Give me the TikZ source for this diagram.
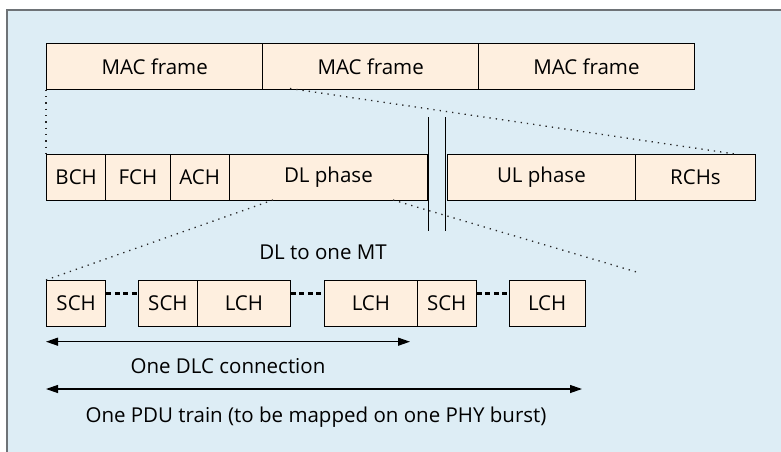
\documentclass[tikz,border=0pt]{standalone}
\usepackage{fontspec}
\setmainfont{Open Sans}
\usetikzlibrary{arrows.meta,calc}
\definecolor{bgblue}{HTML}{DDEDF5}
\definecolor{boxfill}{HTML}{FEEFDF}
\definecolor{framegray}{HTML}{6E7377}
\begin{document}
\begin{tikzpicture}[x=1pt,y=-1pt,
  cell/.style={draw=black,line width=1.3pt,fill=boxfill,anchor=north west,inner sep=0pt,
    minimum height=45.5pt,font=\fontsize{20.5}{24}\selectfont},
  dotl/.style={dash pattern=on 1.3pt off 5pt,line width=1.3pt,black!85},
  dashl/.style={dash pattern=on 5pt off 3.5pt,line width=2.4pt},
  dim/.style={{Triangle[length=12pt,width=8pt]}-{Triangle[length=12pt,width=8pt]},line width=1.2pt},
  lbl/.style={font=\fontsize{20.5}{24}\selectfont,inner sep=0pt}]
\useasboundingbox (0,0) rectangle (781,452);
\fill[bgblue] (7,10) rectangle (781,452);
\draw[framegray,line width=1.5pt] (7,452) -- (7,10) -- (781,10);
% row 1
\node[cell,minimum width=216pt] (m1) at (46,43) {MAC frame};
\node[cell,minimum width=216pt] (m2) at (262,43) {MAC frame};
\node[cell,minimum width=215.5pt] (m3) at (478,43) {MAC frame};
% row 2
\node[cell,minimum width=59pt] (bch) at (46,154) {BCH};
\node[cell,minimum width=64.5pt] (fch) at (105,154) {FCH};
\node[cell,minimum width=59pt] (ach) at (169.5,154) {ACH};
\node[cell,minimum width=198.5pt] (dl) at (228.5,154) {DL phase};
\node[cell,minimum width=187.5pt] (ul) at (447,154) {UL phase};
\node[cell,minimum width=120.5pt] (rch) at (634.5,154) {RCHs};
\coordinate (g1t) at (428.5,117);
\coordinate (g1b) at (428.5,231);
\coordinate (g2t) at (445.7,117);
\coordinate (g2b) at (445.7,231);
\draw[line width=1.3pt] (g1t) -- (g1b);
\draw[line width=1.3pt] (g2t) -- (g2b);
% row 3
\node[cell,minimum width=59pt] (s1) at (46,280) {SCH};
\node[cell,minimum width=59.5pt] (s2) at (137.5,280) {SCH};
\node[cell,minimum width=92.5pt] (l1) at (197,280) {LCH};
\node[cell,minimum width=92.5pt] (l2) at (324,280) {LCH};
\node[cell,minimum width=59pt] (s3) at (416.5,280) {SCH};
\node[cell,minimum width=76pt] (l3) at (508.5,280) {LCH};
\draw[dashl] ($(s1.north east)+(0,13.5)$) -- ($(s2.north west)+(0,13.5)$);
\draw[dashl] ($(l1.north east)+(0,13.5)$) -- ($(l2.north west)+(0,13.5)$);
\draw[dashl] ($(s3.north east)+(0,13.5)$) -- ($(l3.north west)+(0,13.5)$);
% zoom lines
\coordinate (z1) at (290,88.5);
\coordinate (z2) at (735,154);
\coordinate (z3) at (273,200);
\coordinate (z4) at (393,200);
\coordinate (z5) at (640,273);
\draw[dotl] (m1.south west) -- (bch.north west);
\draw[dotl] (z1) -- (z2);
\draw[dotl] (z3) -- (s1.north west);
\draw[dotl] (z4) -- (z5);
\node[lbl] (mt) at (323,252) {DL to one MT};
% arrows
\coordinate (a1l) at (46,341.7);
\coordinate (a1r) at (410,341.7);
\coordinate (a2l) at (46,389);
\coordinate (a2r) at (582,389);
\draw[dim] (a1l) -- (a1r);
\draw[dim] (a2l) -- (a2r);
\node[lbl] (dlc) at (228,366) {One DLC connection};
\node[lbl] (pdu) at (316,417) {One PDU train (to be mapped on one PHY burst)};
\end{tikzpicture}
\end{document}
